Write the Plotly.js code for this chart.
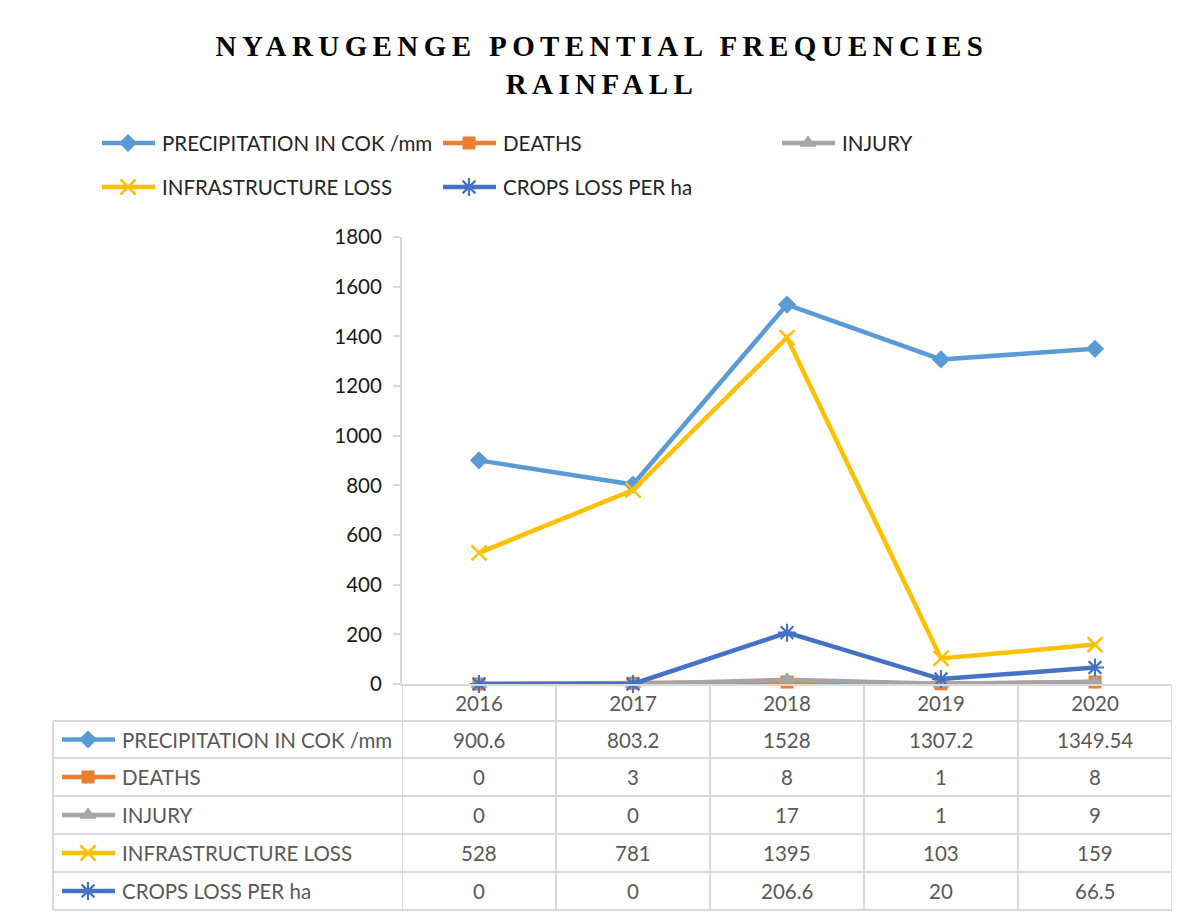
<!DOCTYPE html>
<html>
<head>
<meta charset="utf-8">
<script src="https://cdn.plot.ly/plotly-3.0.1.min.js"></script>
<style>html,body{margin:0;padding:0;background:#fff;}#chart{width:1195px;height:919px;}</style>
</head>
<body>
<div id="chart"></div>
<script>
// ---- data ----
const years = ['2016', '2017', '2018', '2019', '2020'];
const precipitation = [900.6, 803.2, 1528, 1307.2, 1349.54];
const deaths = [0, 3, 8, 1, 8];
const injury = [0, 0, 17, 1, 9];
const infrastructureLoss = [528, 781, 1395, 103, 159];
const cropsLoss = [0, 0, 206.6, 20, 66.5];
const seriesNames = ['PRECIPITATION IN COK /mm', 'DEATHS', 'INJURY', 'INFRASTRUCTURE LOSS', 'CROPS LOSS PER ha'];
const yTicks = [0, 200, 400, 600, 800, 1000, 1200, 1400, 1600, 1800];
const titleText = 'NYARUGENGE POTENTIAL FREQUENCIES<br>RAINFALL';

const seriesValues = [precipitation, deaths, injury, infrastructureLoss, cropsLoss];

// ---- styles ----
const colors = ['#5B9BD5', '#ED7D31', '#A5A5A5', '#FFC000', '#4472C4'];
const markers = [
  {symbol: 'diamond', size: 14},
  {symbol: 'square', size: 13},
  {symbol: 'triangle-up', size: 15},
  {symbol: 'x-thin-open', size: 15, open: true, lw: 2.5},
  {symbol: 'asterisk-open', size: 15, open: true, lw: 2.2}
];
function markerStyle(i) {
  const m = markers[i];
  const o = {symbol: m.symbol, size: m.size, color: colors[i]};
  if (m.open) o.line = {color: colors[i], width: m.lw};
  return o;
}

// ---- layout geometry (pixels) ----
const W = 1195, H = 919;
const L = 30, R = 1182, T = 10, B = 919;
const fx = px => (px - L) / (R - L);
const fy = py => (B - py) / (B - T);
const plotLeft = 402, plotRight = 1172, plotTop = 237, plotBottom = 684;
const tableLeft = 53;
const rowLines = [721, 758, 796, 834, 872, 910];
const rowCenter = i => (rowLines[i] + rowLines[i + 1]) / 2;
const gridColor = '#d9d9d9';
const font = 'Lato, "Open Sans", sans-serif';
const fs = 20.5;

const traces = [];
// main series
seriesValues.forEach((vals, i) => {
  traces.push({
    type: 'scatter', mode: 'lines+markers', name: seriesNames[i],
    x: years, y: vals, xaxis: 'x', yaxis: 'y',
    line: {color: colors[i], width: 4.5},
    marker: markerStyle(i),
    cliponaxis: false, showlegend: false
  });
});

// key symbol helper (legend + table)
function addKey(i, textX, yPix) {
  traces.push({
    type: 'scatter', mode: 'lines',
    x: [textX - 58, textX - 5], y: [yPix, yPix],
    xaxis: 'x3', yaxis: 'y3',
    line: {color: colors[i], width: 4.5},
    cliponaxis: false, showlegend: false, hoverinfo: 'skip'
  });
  traces.push({
    type: 'scatter', mode: 'markers',
    x: [textX - 32], y: [yPix],
    xaxis: 'x3', yaxis: 'y3',
    marker: markerStyle(i),
    cliponaxis: false, showlegend: false, hoverinfo: 'skip'
  });
}

const annotations = [];
// legend (manual, Excel-style two rows)
const legendPos = [[160, 143], [501, 143], [840, 143], [160, 187], [501, 187]];
seriesNames.forEach((name, i) => {
  addKey(i, legendPos[i][0], legendPos[i][1]);
  annotations.push({
    xref: 'paper', yref: 'paper', x: fx(legendPos[i][0]), y: fy(legendPos[i][1]),
    xanchor: 'left', yanchor: 'middle', showarrow: false, text: name,
    font: {family: font, size: fs, color: '#262626'}
  });
});

// data table
seriesNames.forEach((name, i) => {
  const yc = rowCenter(i);
  addKey(i, 120, yc);
  annotations.push({
    xref: 'paper', yref: 'paper', x: fx(120), y: fy(yc), xanchor: 'left', yanchor: 'middle',
    showarrow: false, text: name, font: {family: font, size: fs, color: '#595959'}
  });
  seriesValues[i].forEach((v, j) => {
    annotations.push({
      xref: 'x', yref: 'paper', x: j, y: fy(yc), xanchor: 'center', yanchor: 'middle',
      showarrow: false, text: String(v), font: {family: font, size: fs, color: '#595959'}
    });
  });
});

const shapes = [];
rowLines.forEach(py => {
  shapes.push({type: 'line', xref: 'paper', yref: 'paper', x0: fx(tableLeft), x1: fx(plotRight), y0: fy(py), y1: fy(py),
    line: {color: gridColor, width: 2}});
});
shapes.push({type: 'line', xref: 'paper', yref: 'paper', x0: fx(tableLeft), x1: fx(tableLeft), y0: fy(rowLines[0]), y1: fy(rowLines[5]),
  line: {color: gridColor, width: 2}});
for (let k = 0; k <= years.length; k++) {
  shapes.push({type: 'line', xref: 'x', yref: 'paper', x0: k - 0.5, x1: k - 0.5, y0: fy(plotBottom), y1: fy(rowLines[5]),
    line: {color: gridColor, width: 2}});
}

const layout = {
  width: W, height: H,
  margin: {l: L, r: W - R, t: T, b: H - B},
  paper_bgcolor: '#fff', plot_bgcolor: 'rgba(0,0,0,0)',
  showlegend: false,
  title: {
    text: titleText, xref: 'container', yref: 'container',
    x: 602 / W, xanchor: 'center', y: 1 - 56 / H, yanchor: 'middle',
    font: {family: '"Liberation Serif", "Times New Roman", serif', size: 29, color: '#000', weight: 'bold'}
  },
  xaxis: {
    domain: [fx(plotLeft), fx(plotRight)], type: 'category', range: [-0.5, 4.5],
    showline: true, linecolor: gridColor, linewidth: 2, ticks: '', showgrid: false, zeroline: false,
    tickfont: {family: font, size: fs, color: '#595959'}, ticklabelstandoff: 0
  },
  yaxis: {
    domain: [fy(plotBottom), fy(plotTop)], range: [0, 1800], tickvals: yTicks, ticktext: yTicks.map(String),
    showline: true, linecolor: gridColor, linewidth: 2, ticks: 'outside', ticklen: 7, tickcolor: gridColor, tickwidth: 2,
    showgrid: false, zeroline: false, tickfont: {family: font, size: fs, color: '#1a1a1a'}, ticklabelstandoff: 7
  },
  xaxis3: {domain: [0, 1], range: [L, R], visible: false, fixedrange: true, anchor: 'y3'},
  yaxis3: {domain: [0, 1], range: [B, T], visible: false, fixedrange: true, anchor: 'x3'},
  annotations: annotations,
  shapes: shapes
};

Plotly.newPlot('chart', traces, layout, {staticPlot: true}).then(() => {
  document.querySelectorAll('.gtitle').forEach(e => { e.style.letterSpacing = '5.4px'; });
});
</script>
</body>
</html>
